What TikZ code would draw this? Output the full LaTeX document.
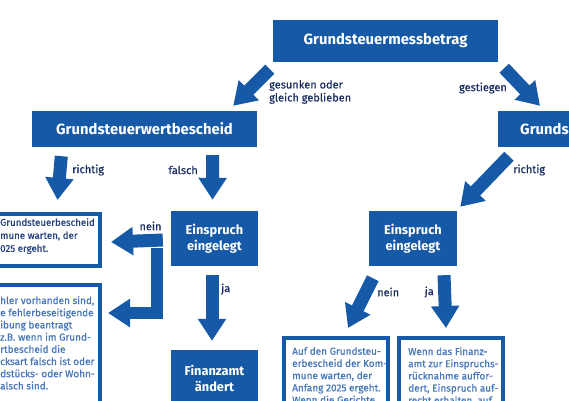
\documentclass[tikz,border=0pt]{standalone}
\usepackage{fontspec}
\setmainfont{Fira Sans}
\newfontfamily\medfont{Fira Sans}[FakeBold=0.6]
\usetikzlibrary{arrows.meta,calc}
\definecolor{bblue}{HTML}{1659A6}
\definecolor{navy}{HTML}{1B2F63}
\definecolor{dtxt}{HTML}{24407E}
\definecolor{ltxt}{HTML}{4677BA}
\begin{document}
\begin{tikzpicture}[x=1pt,y=-1pt,
  bluebox/.style={fill=bblue, text=white, inner sep=0pt, align=center},
  bigtitle/.style={font=\bfseries\fontsize{14.8}{17}\selectfont},
  smalltitle/.style={font=\bfseries\fontsize{12.8}{16}\selectfont},
  whitebox/.style={draw=bblue, line width=4pt, fill=white, inner sep=0pt},
  bigarrow/.style={draw=bblue, line width=13pt, -{Triangle[length=22pt,width=27pt]}},
  lbl/.style={text=navy, font=\medfont\fontsize{11}{13}\selectfont, inner sep=0pt, align=left},
  boxtxt/.style={text=dtxt, font=\medfont\fontsize{9.7}{13}\selectfont, inner sep=0pt, align=left, anchor=north west},
  softtxt/.style={text=ltxt, font=\medfont\fontsize{10}{12.2}\selectfont, inner sep=0pt, align=left, anchor=north west}
]
\clip (0,0) rectangle (569,400);
\fill[white] (0,0) rectangle (569,400);

% blue boxes
\node[bluebox, bigtitle, minimum width=225pt, minimum height=42pt] (mess) at (385.5,41) {Grundsteuermessbetrag};
\node[bluebox, bigtitle, minimum width=225pt, minimum height=36pt] (wert) at (144.5,129) {Grundsteuerwertbescheid};
\node[bluebox, bigtitle, anchor=west, minimum height=36pt, text width=98pt, inner xsep=22pt, align=left] (grs) at (498,129) {Grunds};
\node[bluebox, smalltitle, minimum width=87pt, minimum height=55pt] (ein1) at (214.5,238.5) {Einspruch\\eingelegt};
\node[bluebox, smalltitle, minimum width=88pt, minimum height=55pt] (ein2) at (413,238.5) {Einspruch\\eingelegt};
\node[bluebox, smalltitle, minimum width=87pt, minimum height=56pt] (fin) at (214.5,378) {Finanzamt\\ändert};

% white boxes
\node[whitebox, anchor=north east, minimum width=132pt, minimum height=52pt] (wb1) at (102,212) {};
\node[whitebox, anchor=north east, minimum width=132pt, minimum height=150pt] (wb2) at (101.5,283) {};
\node[whitebox, anchor=north west, minimum width=104pt, minimum height=100pt] (wb3) at (282,336) {};
\node[whitebox, anchor=north west, minimum width=104pt, minimum height=100pt] (wb4) at (397,336) {};

% texts in white boxes
\node[boxtxt] (t1) at (0,218) {Grundsteuerbescheid\\mune warten, der\\025 ergeht.};
\node[softtxt] (t2) at (0,296) {hler vorhanden sind,\\e fehlerbeseitigende\\ibung beantragt\\z.B. wenn im Grund-\\rtbescheid die\\cksart falsch ist oder\\dstücks- oder Wohn-\\alsch sind.};
\node[softtxt] (t3) at (292,347) {Auf den Grundsteu-\\erbescheid der Kom-\\mune warten, der\\Anfang 2025 ergeht.\\Wenn die Gerichte};
\node[softtxt] (t4) at (408,347) {Wenn das Finanz-\\amt zur Einspruchs-\\rücknahme auffor-\\dert, Einspruch auf-\\recht erhalten, auf};

% arrows
\draw[bigarrow] ($(mess.south west)+(-3,7)$) -- ($(wert.north east)+(-24,-5)$);
\draw[bigarrow] ($(mess.south east)+(6,6)$) -- ($(grs.north west)+(42,-5)$);
\draw[bigarrow] ($(wert.south west)+(29.5,9)$) -- ($(wb1.north west)+(91.5,-12)$);
\draw[bigarrow] ($(wert.south east)+(-44.5,8)$) -- ($(ein1.north)+(-2,-11)$);
\draw[bigarrow] ($(ein1.west)+(-8,1.5)$) -- ($(wb1.east)+(9,2)$);
\draw[bigarrow, line width=12pt, line join=miter] ($(ein1.south west)+(-13.5,-18)$) |- ($(wb2.north east)+(6.5,30)$);
\draw[bigarrow] ($(ein1.south)+(-2.5,9)$) -- ($(fin.north)+(-2.5,-9)$);
\draw[bigarrow] ($(grs.south west)+(11,9)$) -- ($(ein2.north east)+(3,-4)$);
\draw[bigarrow] ($(ein2.south west)+(4,12)$) -- ($(wb3.north)+(12,-8)$);
\draw[bigarrow] ($(ein2.south)+(31,9)$) -- ($(wb4.north)+(-5,-8)$);

% labels
\node[lbl, anchor=north west] (l1) at (269,80) {gesunken oder\\gleich geblieben};
\node[lbl] (l2) at (483,88) {gestiegen};
\node[lbl, anchor=west] (l3) at (72,170) {richtig};
\node[lbl, anchor=east] (l4) at (198,170) {falsch};
\node[lbl] (l5) at (150.5,226) {nein};
\node[lbl, anchor=west] (l6) at (221,289) {ja};
\node[lbl, anchor=west] (l7) at (513,170) {richtig};
\node[lbl, anchor=west] (l8) at (377,292) {nein};
\node[lbl, anchor=east] (l9) at (434,292) {ja};
\end{tikzpicture}
\end{document}
